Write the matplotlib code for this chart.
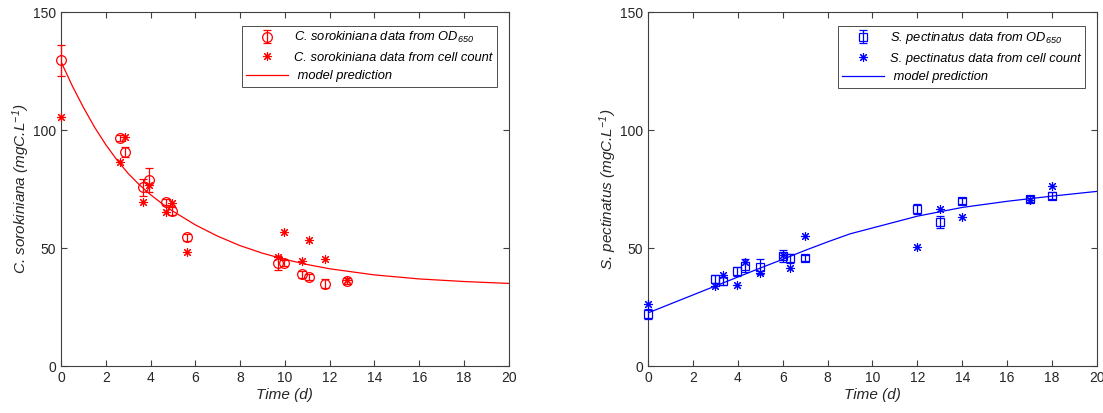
import matplotlib.pyplot as plt

plt.rcParams['font.family'] = ['Liberation Sans', 'DejaVu Sans']
plt.rcParams['mathtext.fontset'] = 'custom'
plt.rcParams['mathtext.rm'] = 'Liberation Sans:italic'
plt.rcParams['mathtext.it'] = 'Liberation Sans:italic'

# C. sorokiniana
c_time = [0, 2.63, 2.86, 3.65, 3.91, 4.68, 4.96, 5.64, 9.67, 9.97, 10.78, 11.08, 11.78, 12.78]
c_od = [129.5, 96.5, 90.7, 75.7, 78.8, 69.6, 65.7, 54.5, 43.8, 43.8, 38.8, 37.8, 34.9, 36.1]
c_od_err = [6.4, 1.2, 2.3, 3.6, 5.0, 1.2, 1.5, 1.5, 3.0, 1.3, 1.3, 1.3, 1.8, 1.3]
c_count = [105.4, 86.3, 97.2, 69.6, 76.5, 65.3, 69.2, 48.3, 46.0, 56.9, 44.6, 53.4, 45.2, 36.4]
c_model_t = [0, 0.5, 1, 1.5, 2, 2.5, 3, 3.5, 4, 4.5, 5, 6, 7, 8, 9, 10, 11, 12, 14, 16, 18, 20]
c_model = [129, 118.8, 109.6, 101.2, 93.8, 87.3, 81.6, 76.8, 72.6, 68.9, 65.6, 59.8, 55, 51, 47.8, 45.2,
           43, 41.2, 38.6, 36.9, 35.8, 35]

# S. pectinatus
s_time = [0, 3, 3.33, 3.95, 4.3, 5, 6, 6.33, 7, 12, 13, 14, 17, 18]
s_od = [22, 36.9, 36.1, 40.1, 42.5, 42.1, 46.6, 45.6, 45.9, 66.5, 60.9, 70, 70.8, 72.2]
s_od_err = [2.0, 1.6, 1.6, 2.0, 2.8, 3.1, 2.5, 1.8, 1.3, 2.0, 2.5, 1.4, 1.2, 1.4]
s_count = [26.1, 34, 38.6, 34.3, 44.2, 39.5, 47, 41.4, 54.9, 50.4, 66.5, 63, 70.5, 76.4]
s_model_t = [0, 1, 2, 3, 4, 5, 6, 7, 8, 9, 10, 12, 14, 16, 18, 20]
s_model = [22.5, 26.3, 30.1, 33.9, 37.7, 41.5, 45.2, 49, 52.6, 56, 58.5, 63.5, 67.2, 69.8, 72, 74]

star = (8, 2, 0)
axcol = '0.25'

fig = plt.figure(figsize=(11.03, 4.13), dpi=100)
ax1 = fig.add_axes([0.0553, 0.1138, 0.406, 0.857])
ax2 = fig.add_axes([0.5875, 0.1138, 0.407, 0.857])

panels = [
    (ax1, '#ff0000', 'o', c_time, c_od, c_od_err, c_count, c_model_t, c_model, 'C. sorokiniana'),
    (ax2, '#0000ff', 's', s_time, s_od, s_od_err, s_count, s_model_t, s_model, 'S. pectinatus'),
]

for ax, col, mk, t, od, err, cnt, mt, mod, name in panels:
    eb = ax.errorbar(t, od, yerr=err, fmt=mk, color=col, ecolor=col, mec=col, mfc='none',
                     ms=7 if mk == 'o' else 6, mew=0.9, elinewidth=0.9, capsize=3, capthick=0.9,
                     clip_on=False, zorder=3)
    for a in eb.lines[0:1] + tuple(eb.lines[1]) + tuple(eb.lines[2]):
        a.set_clip_on(False)
    sc, = ax.plot(t, cnt, ls='none', marker=star, color=col, ms=6.5, mew=0.8, clip_on=False, zorder=3)
    ln, = ax.plot(mt, mod, color=col, lw=0.9)

    ax.set_xlim(0, 20)
    ax.set_ylim(0, 150)
    ax.set_xticks(range(0, 21, 2))
    ax.set_yticks([0, 50, 100, 150])
    ax.tick_params(direction='in', top=True, right=True, length=4, width=0.8,
                   labelsize=10, colors=axcol, labelcolor='0.15')
    for s in ax.spines.values():
        s.set_color(axcol)
        s.set_linewidth(0.8)
    ax.set_xlabel('Time (d)', fontsize=11, fontstyle='italic', color='0.15', labelpad=2)
    ax.set_ylabel(name + ' (mgC.L$^{-1}$)', fontsize=11, fontstyle='italic', color='0.15', labelpad=1)

    leg = ax.legend([eb, sc, ln],
                    [name + ' data from OD$_{650}$', name + ' data from cell count', ' model prediction'],
                    loc='upper right', bbox_to_anchor=(0.974, 0.962), prop={'style': 'italic', 'size': 9.3},
                    fancybox=False, framealpha=1, edgecolor='0.3', handlelength=3.2,
                    labelspacing=0.5, borderpad=0.35, handletextpad=0.5, borderaxespad=0)
    leg.get_frame().set_linewidth(0.7)

plt.savefig('out.png', dpi=100)
